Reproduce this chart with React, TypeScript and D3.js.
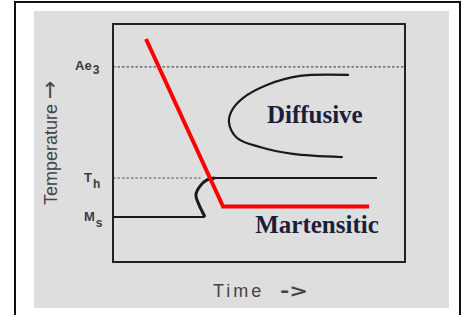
import React from 'react';
import * as d3 from 'd3';

// critical temperature levels (arbitrary units, 0..100)
const levelNames = ['Ae', 'T', 'M'];
const levelSubs = ['3', 'h', 's'];
const levelValues = [82, 35.3, 18.9];

// red cooling path
const coolingTime = [11.3, 37.7, 87.7];
const coolingTemp = [93.7, 23.3, 23.3];

// diffusive C-curve
const diffusiveTime = [80.5, 64.0, 52.7, 44.5, 40.8, 39.7, 42.5, 50.3, 61.6, 78.4];
const diffusiveTemp = [78.6, 78.2, 74.4, 68.9, 63.9, 58.8, 52.1, 48.3, 45.4, 44.1];

// bainite nose joining Ms line to Th line
const bainiteTime = [31.5, 30.8, 29.5, 28.4, 29.8, 32.2, 34.9];
const bainiteTemp = [18.9, 20.6, 23.9, 28.2, 31.9, 34.5, 35.3];

// straight segments
const msLineTime = [0, 31.5];
const thLineTime = [34.9, 90.4];
const thDashTime = [0, 30];

const regionLabels = ['Diffusive', 'Martensitic'];
const regionLabelTime = [52.7, 48.7];
const regionLabelTemp = [58.4, 12.2];

const W = 462;
const H = 315;
const box = { left: 113, top: 24, right: 405, bottom: 262 };

const App = () => {
  const x = d3.scaleLinear().domain([0, 100]).range([box.left, box.right]);
  const y = d3.scaleLinear().domain([0, 100]).range([box.bottom, box.top]);

  const line = d3.line<[number, number]>()
    .x(d => x(d[0]))
    .y(d => y(d[1]));
  const smooth = d3.line<[number, number]>()
    .x(d => x(d[0]))
    .y(d => y(d[1]))
    .curve(d3.curveCatmullRom.alpha(0.5));

  const zip = (a: number[], b: number[]) => a.map((v, i) => [v, b[i]] as [number, number]);

  const cooling = zip(coolingTime, coolingTemp);
  const diffusive = zip(diffusiveTime, diffusiveTemp);
  const bainite = zip(bainiteTime, bainiteTemp);
  const ms = levelValues[2];
  const th = levelValues[1];
  const ae = levelValues[0];

  const labelFont = '"Liberation Sans", Arial, sans-serif';
  const serif = '"Liberation Serif", "Times New Roman", serif';

  return (
    <svg width={W} height={H} style={{ position: 'absolute', left: 0, top: 0, display: 'block' }}>
      <rect x={0} y={0} width={W} height={H} fill="#fff" />
      <rect x={15} y={2} width={445} height={330} fill="none" stroke="#111" strokeWidth={2} />
      <rect x={34} y={11} width={415} height={297} fill="#dedede" />

      {/* dashed reference levels */}
      <path d={line([[0, ae], [100, ae]])!} stroke="#555" strokeWidth={1.2} strokeDasharray="2.5,2" fill="none" />
      <path d={line(thDashTime.map(t => [t, th] as [number, number]))!} stroke="#555" strokeWidth={1.2} strokeDasharray="2.5,2" fill="none" />

      {/* plot frame */}
      <rect x={box.left} y={box.top} width={box.right - box.left} height={box.bottom - box.top}
        fill="none" stroke="#222" strokeWidth={2} />

      {/* transformation curves */}
      <path d={smooth(diffusive)!} stroke="#1a1a1a" strokeWidth={2.2} fill="none" strokeLinecap="round" />
      <path d={line(msLineTime.map(t => [t, ms] as [number, number]))!} stroke="#1a1a1a" strokeWidth={2} fill="none" />
      <path d={smooth(bainite)!} stroke="#1a1a1a" strokeWidth={3} fill="none" />
      <path d={line(thLineTime.map(t => [t, th] as [number, number]))!} stroke="#1a1a1a" strokeWidth={2.2} fill="none" />

      {/* cooling path */}
      <path d={line(cooling)!} stroke="#ff0000" strokeWidth={4} fill="none" strokeLinejoin="miter" />

      {/* level labels */}
      {levelNames.map((n, i) => (
        <text key={n} x={i === 0 ? 75 : 84} y={y(levelValues[i]) + (i === 0 ? 3 : 4)}
          fontFamily={labelFont} fontSize={13} fontWeight="bold" fill="#3c3c3c">
          {n}
          <tspan dx={1} dy={i === 0 ? 4 : 6} fontSize={12}>{levelSubs[i]}</tspan>
        </text>
      ))}

      {/* region labels */}
      {regionLabels.map((l, i) => (
        <text key={l} x={x(regionLabelTime[i])} y={y(regionLabelTemp[i])}
          fontFamily={serif} fontWeight="bold" fontSize={25} fill="#1b1e3a">{l}</text>
      ))}

      {/* axis titles */}
      <text transform="translate(57,205) rotate(-90)" fontFamily={labelFont} fontSize={18} fill="#444">
        Temperature <tspan fontFamily='"DejaVu Sans", sans-serif' fontSize={22}>→</tspan>
      </text>
      <text x={213} y={297} fontFamily={labelFont} fontSize={18} fill="#444" letterSpacing={3}>
        Time
        <tspan x={280} letterSpacing={0} fontFamily='"DejaVu Sans", sans-serif' fontSize={18}
          fontWeight="bold" textLength={28} lengthAdjust="spacingAndGlyphs">-&gt;</tspan>
      </text>
    </svg>
  );
};

export default App;
